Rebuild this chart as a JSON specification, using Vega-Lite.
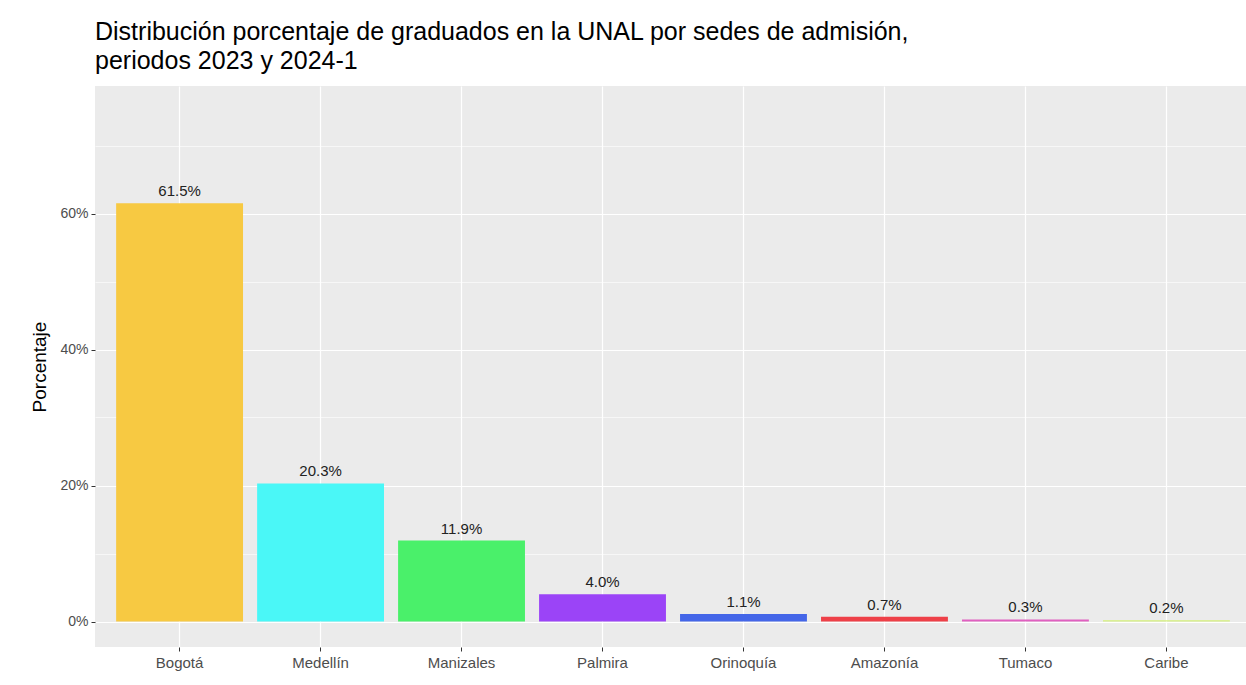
{
  "$schema": "https://vega.github.io/schema/vega-lite/v6.json",
  "width": 1156,
  "height": 561,
  "autosize": {"type": "none"},
  "padding": {"left": 95, "top": 86, "right": 0, "bottom": 38},
  "background": "white",
  "title": {
    "text": ["Distribución porcentaje de graduados en la UNAL por sedes de admisión,", "periodos 2023 y 2024-1"],
    "anchor": "start",
    "frame": "group",
    "font": "Liberation Sans",
    "fontSize": 25,
    "fontWeight": "normal",
    "color": "#000000",
    "lineHeight": 29,
    "offset": 12
  },
  "config": {
    "view": {"fill": "#EBEBEB", "stroke": null},
    "font": "Liberation Sans"
  },
  "data": {
    "values": [
      {"sede": "Bogotá", "pct": 61.5, "label": "61.5%"},
      {"sede": "Medellín", "pct": 20.3, "label": "20.3%"},
      {"sede": "Manizales", "pct": 11.9, "label": "11.9%"},
      {"sede": "Palmira", "pct": 4.0, "label": "4.0%"},
      {"sede": "Orinoquía", "pct": 1.1, "label": "1.1%"},
      {"sede": "Amazonía", "pct": 0.7, "label": "0.7%"},
      {"sede": "Tumaco", "pct": 0.3, "label": "0.3%"},
      {"sede": "Caribe", "pct": 0.2, "label": "0.2%"}
    ]
  },
  "encoding": {
    "x": {
      "field": "sede",
      "type": "nominal",
      "sort": null,
      "scale": {"paddingInner": 0.1, "paddingOuter": 0.15},
      "axis": {
        "title": null,
        "labelAngle": 0,
        "labelFont": "Liberation Sans",
        "labelFontSize": 15,
        "labelColor": "#4D4D4D",
        "labelPadding": 4,
        "domain": false,
        "grid": true,
        "gridColor": "#FFFFFF",
        "gridWidth": 1.2,
        "bandPosition": 0.5,
        "ticks": true,
        "tickColor": "#333333",
        "tickSize": 4,
        "tickWidth": 1
      }
    },
    "y": {
      "field": "pct",
      "type": "quantitative",
      "scale": {"domain": [-3.75, 78.75], "nice": false, "zero": false},
      "axis": {
        "title": "Porcentaje",
        "titleFont": "Liberation Sans",
        "titleFontSize": 19,
        "titleFontWeight": "normal",
        "titleColor": "#000000",
        "titlePadding": 10,
        "values": [0, 10, 20, 30, 40, 50, 60, 70],
        "labelExpr": "datum.value % 20 == 0 ? datum.value + '%' : ''",
        "labelFont": "Liberation Sans",
        "labelFontSize": 14,
        "labelColor": "#4D4D4D",
        "labelPadding": 3,
        "domain": false,
        "grid": true,
        "gridColor": "#FFFFFF",
        "gridWidth": {"condition": {"test": "datum.value % 20 == 0", "value": 1.2}, "value": 0.6},
        "ticks": true,
        "tickColor": "#333333",
        "tickSize": 4,
        "tickOpacity": {"condition": {"test": "datum.value % 20 == 0", "value": 1}, "value": 0}
      }
    }
  },
  "layer": [
    {
      "mark": {"type": "bar"},
      "encoding": {
        "color": {
          "field": "sede",
          "type": "nominal",
          "sort": null,
          "legend": null,
          "scale": {
            "domain": ["Bogotá", "Medellín", "Manizales", "Palmira", "Orinoquía", "Amazonía", "Tumaco", "Caribe"],
            "range": ["#F7C942", "#4AF7F7", "#4AF06A", "#9B44F7", "#4466E8", "#EE4048", "#E060C0", "#D4F07A"]
          }
        }
      }
    },
    {
      "mark": {"type": "text", "baseline": "bottom", "dy": -4, "fontSize": 15, "font": "Liberation Sans", "color": "#222222"},
      "encoding": {
        "text": {"field": "label"}
      }
    }
  ]
}
